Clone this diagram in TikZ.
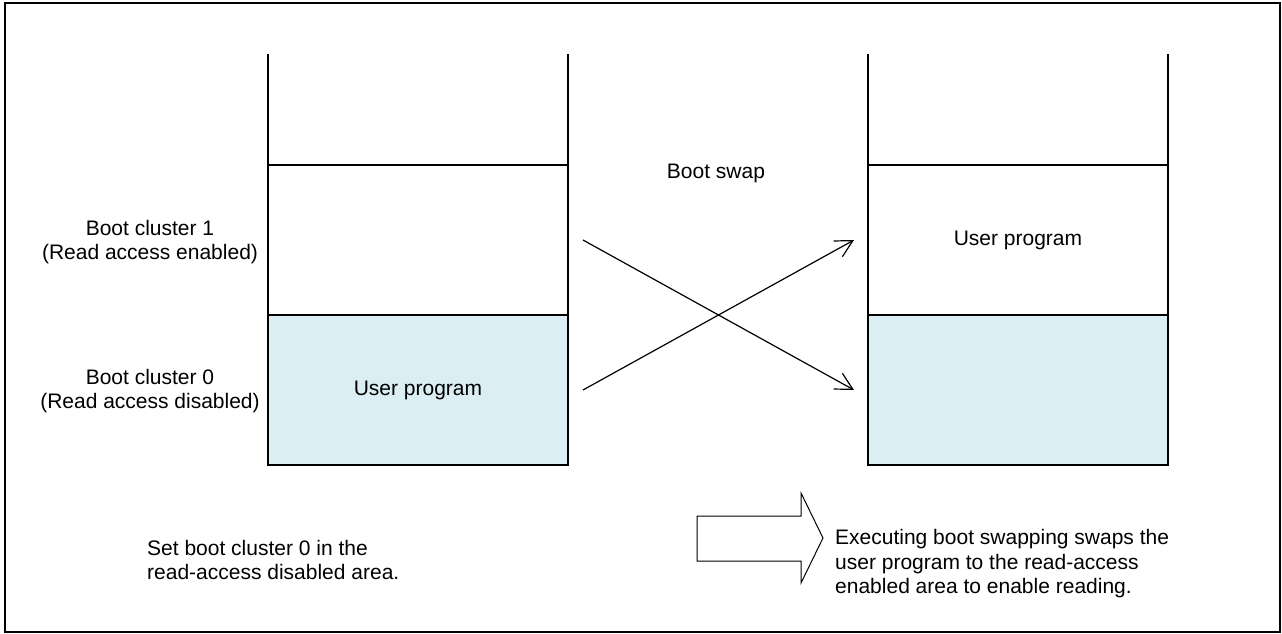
\documentclass[tikz,border=0pt]{standalone}
\usepackage{fontspec}
\setmainfont{Liberation Sans}
\usepackage{tikz}
\usetikzlibrary{arrows.meta}
\definecolor{ClusterBlue}{RGB}{218,238,243}

\begin{document}
\begin{tikzpicture}[x=1pt,y=-1pt,
  lbl/.style={font=\fontsize{21}{24.5}\selectfont, align=center, inner sep=0pt},
  note/.style={font=\fontsize{21}{24.5}\selectfont, align=left, anchor=west, inner sep=0pt},
  bank/.style={line width=2.2pt},
  swap/.style={line width=1.2pt, -{Straight Barb[length=17pt,width=18pt]}}]
\useasboundingbox (0,0) rectangle (1282,634);
\draw[line width=2.5pt] (5,3) rectangle (1280,632);
%
\fill[ClusterBlue] (268,315) rectangle (568,465);
\fill[ClusterBlue] (868,315) rectangle (1168,465);
%
\draw[bank] (268,54)--(268,465)--(568,465)--(568,54);
\draw[bank] (268,165)--(568,165);
\draw[bank] (268,315)--(568,315);
\draw[bank] (868,54)--(868,465)--(1168,465)--(1168,54);
\draw[bank] (868,165)--(1168,165);
\draw[bank] (868,315)--(1168,315);
%
\node[lbl] (bc1) at (150,242) {Boot cluster 1\\(Read access enabled)};
\node[lbl] (bc0) at (150,391) {Boot cluster 0\\(Read access disabled)};
\node[lbl] (prog0) at (418,390) {User program};
\node[lbl] (prog1) at (1018,240) {User program};
\node[lbl] (swap) at (716,173) {Boot swap};
%
\coordinate (s1) at (583,240);
\coordinate (s0) at (583,390);
\coordinate (d1) at (854,240);
\coordinate (d0) at (854,390);
\draw[swap] (s1) -- (d0);
\draw[swap] (s0) -- (d1);
%
\draw[line width=1pt, fill=white] (697,516)--(801,516)--(801,493)--(823,538)
  --(801,583)--(801,561)--(697,561)--cycle;
%
\node[note] (before) at (147,560) {Set boot cluster 0 in the\\read-access disabled area.};
\node[note] (after) at (835,564) {Executing boot swapping swaps the\\user program to the read-access\\enabled area to enable reading.};
\end{tikzpicture}
\end{document}
